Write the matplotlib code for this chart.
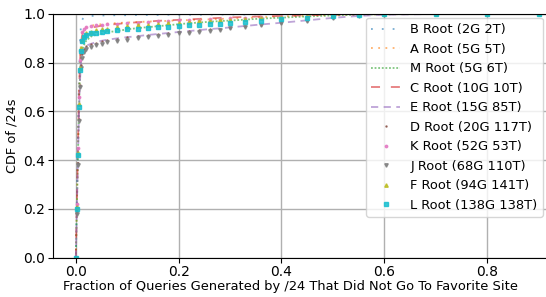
import matplotlib
matplotlib.use("Agg")
import matplotlib.pyplot as plt

# --- Data ---
x_pts = [0.0, 0.002, 0.004, 0.006, 0.008, 0.010, 0.012, 0.015, 0.02, 0.03,
         0.04, 0.05, 0.06, 0.08, 0.10, 0.12, 0.14, 0.16, 0.18, 0.20,
         0.22, 0.24, 0.26, 0.28, 0.30, 0.33, 0.36, 0.40, 0.45, 0.50,
         0.55, 0.60, 0.70, 0.80, 0.90]

cdf_b = [0.0, 0.25, 0.50, 0.72, 0.88, 0.955, 0.975, 0.985, 0.99, 0.992,
         0.993, 0.994, 0.994, 0.995, 0.995, 0.996, 0.996, 0.996, 0.997, 0.997,
         0.997, 0.997, 0.998, 0.998, 0.998, 0.998, 0.999, 0.999, 0.999, 1.0,
         1.0, 1.0, 1.0, 1.0, 1.0]
cdf_a = [0.0, 0.22, 0.45, 0.65, 0.80, 0.88, 0.92, 0.935, 0.945, 0.952,
         0.956, 0.958, 0.960, 0.963, 0.965, 0.967, 0.969, 0.970, 0.972, 0.974,
         0.975, 0.977, 0.978, 0.980, 0.981, 0.984, 0.987, 0.990, 0.993, 0.996,
         0.998, 0.999, 1.0, 1.0, 1.0]
cdf_m = [0.0, 0.20, 0.40, 0.60, 0.74, 0.82, 0.85, 0.87, 0.89, 0.908,
         0.915, 0.920, 0.925, 0.930, 0.937, 0.942, 0.946, 0.950, 0.954, 0.958,
         0.962, 0.965, 0.968, 0.971, 0.973, 0.977, 0.981, 0.985, 0.990, 0.994,
         0.997, 0.999, 1.0, 1.0, 1.0]
cdf_c = [0.0, 0.22, 0.44, 0.64, 0.80, 0.88, 0.91, 0.93, 0.94, 0.944,
         0.948, 0.952, 0.955, 0.959, 0.963, 0.966, 0.969, 0.972, 0.974, 0.976,
         0.978, 0.980, 0.982, 0.984, 0.986, 0.988, 0.990, 0.992, 0.995, 0.997,
         0.999, 1.0, 1.0, 1.0, 1.0]
cdf_e = [0.0, 0.20, 0.40, 0.58, 0.72, 0.80, 0.84, 0.86, 0.87, 0.878,
         0.885, 0.890, 0.894, 0.900, 0.905, 0.909, 0.914, 0.918, 0.922, 0.926,
         0.930, 0.934, 0.938, 0.941, 0.945, 0.951, 0.957, 0.964, 0.974, 0.984,
         0.992, 0.997, 1.0, 1.0, 1.0]
cdf_d = [0.0, 0.19, 0.39, 0.57, 0.71, 0.79, 0.835, 0.855, 0.868, 0.876,
         0.883, 0.888, 0.893, 0.899, 0.904, 0.908, 0.913, 0.917, 0.921, 0.925,
         0.929, 0.933, 0.937, 0.940, 0.944, 0.950, 0.956, 0.963, 0.973, 0.983,
         0.991, 0.997, 1.0, 1.0, 1.0]
cdf_k = [0.0, 0.22, 0.45, 0.66, 0.81, 0.89, 0.925, 0.94, 0.946, 0.950,
         0.953, 0.955, 0.957, 0.960, 0.963, 0.965, 0.968, 0.970, 0.972, 0.974,
         0.976, 0.977, 0.979, 0.980, 0.982, 0.985, 0.987, 0.990, 0.993, 0.996,
         0.998, 0.999, 1.0, 1.0, 1.0]
cdf_j = [0.0, 0.18, 0.38, 0.56, 0.70, 0.78, 0.82, 0.845, 0.858, 0.866,
         0.872, 0.878, 0.884, 0.891, 0.895, 0.900, 0.905, 0.910, 0.915, 0.920,
         0.924, 0.928, 0.932, 0.936, 0.941, 0.948, 0.955, 0.963, 0.973, 0.983,
         0.991, 0.997, 1.0, 1.0, 1.0]
cdf_f = [0.0, 0.21, 0.43, 0.63, 0.78, 0.86, 0.895, 0.91, 0.92, 0.928,
         0.933, 0.937, 0.940, 0.945, 0.949, 0.953, 0.956, 0.959, 0.962, 0.965,
         0.968, 0.970, 0.973, 0.975, 0.977, 0.981, 0.984, 0.988, 0.992, 0.995,
         0.998, 0.999, 1.0, 1.0, 1.0]
cdf_l = [0.0, 0.20, 0.42, 0.62, 0.77, 0.85, 0.89, 0.905, 0.915, 0.921,
         0.924, 0.927, 0.929, 0.933, 0.937, 0.940, 0.943, 0.946, 0.948, 0.951,
         0.953, 0.956, 0.958, 0.960, 0.962, 0.967, 0.972, 0.978, 0.985, 0.991,
         0.996, 0.999, 1.0, 1.0, 1.0]

labels = ["B Root (2G 2T)", "A Root (5G 5T)", "M Root (5G 6T)", "C Root (10G 10T)",
          "E Root (15G 85T)", "D Root (20G 117T)", "K Root (52G 53T)",
          "J Root (68G 110T)", "F Root (94G 141T)", "L Root (138G 138T)"]
series = [cdf_b, cdf_a, cdf_m, cdf_c, cdf_e, cdf_d, cdf_k, cdf_j, cdf_f, cdf_l]

# style per series: (linestyle, marker)
styles = [
    ((0, (1, 5)), ""),
    ((0, (1, 3)), ""),
    ((0, (1, 1)), ""),
    ((0, (5, 6)), ""),
    ((0, (4, 3)), ""),
    ("none", "."),
    ("none", "."),
    ("none", "v"),
    ("none", "^"),
    ("none", "s"),
]
msizes = [0, 0, 0, 0, 0, 1.5, 3.5, 2.5, 2.5, 3]
colors = ["tab:blue", "tab:orange", "tab:green", "tab:red", "tab:purple",
          "tab:brown", "tab:pink", "tab:gray", "tab:olive", "tab:cyan"]

fig = plt.figure(figsize=(5.46, 2.97), dpi=100)
ax = fig.add_axes([0.0965, 0.1323, 0.92, 0.8206])

for i, ys in enumerate(series):
    ls, mk = styles[i]
    ax.plot(x_pts, ys, linestyle=ls, marker=mk, markersize=msizes[i],
            color=colors[i], alpha=0.6 if mk == "" else 0.85,
            linewidth=1.3, label=labels[i])

ax.set_xlim(-0.045, 0.932)
ax.set_ylim(0.0, 1.0)
ax.set_xticks([0.0, 0.2, 0.4, 0.6, 0.8])
ax.set_yticks([0.0, 0.2, 0.4, 0.6, 0.8, 1.0])
ax.grid(True, color="#b0b0b0", linewidth=1.0)
ax.tick_params(labelsize=10, pad=2)
ax.set_xlabel("Fraction of Queries Generated by /24 That Did Not Go To Favorite Site",
              fontsize=9.4, labelpad=0)
ax.xaxis.set_label_coords(0.474, -0.092)
ax.set_ylabel("CDF of /24s", fontsize=9.25, labelpad=3)
ax.legend(loc="upper right", bbox_to_anchor=(0.976, 0.984), borderaxespad=0,
          fontsize=9.4, handlelength=2.2)

fig.savefig("out.png", dpi=100)
